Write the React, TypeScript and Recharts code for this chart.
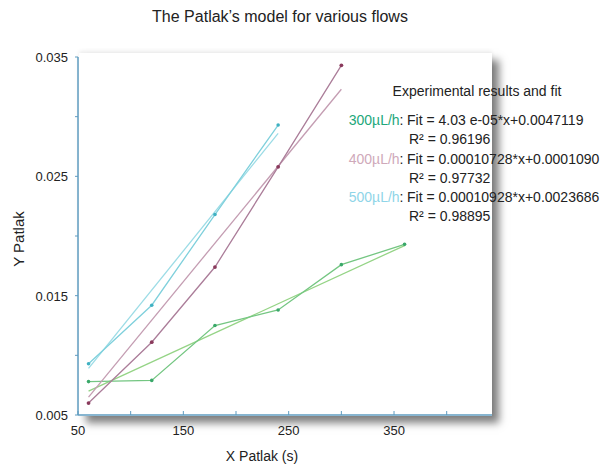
import React from 'react';
import { LineChart, Line, XAxis, YAxis } from 'recharts';

const xTicks = [50, 100, 150, 200, 250, 300, 350, 400];
const xLabels = [50, 150, 250, 350];
const yTicks = [0.005, 0.01, 0.015, 0.02, 0.025, 0.03, 0.035];
const yLabels = [0.005, 0.015, 0.025, 0.035];

const data300 = [
  { x: 60, y: 0.0078 },
  { x: 120, y: 0.0079 },
  { x: 180, y: 0.0125 },
  { x: 240, y: 0.0138 },
  { x: 300, y: 0.0176 },
  { x: 360, y: 0.0193 },
];
const fit300 = [
  { x: 60, y: 0.0070 },
  { x: 360, y: 0.0192 },
];
const data400 = [
  { x: 60, y: 0.0060 },
  { x: 120, y: 0.0111 },
  { x: 180, y: 0.0174 },
  { x: 240, y: 0.0258 },
  { x: 300, y: 0.0343 },
];
const fit400 = [
  { x: 60, y: 0.0065 },
  { x: 300, y: 0.0323 },
];
const data500 = [
  { x: 60, y: 0.0093 },
  { x: 120, y: 0.0142 },
  { x: 180, y: 0.0218 },
  { x: 240, y: 0.0293 },
];
const fit500 = [
  { x: 60, y: 0.0089 },
  { x: 240, y: 0.0286 },
];

const legendRows = [
  { flow: '300µL/h', fit: 'Fit = 4.03 e-05*x+0.0047119', r2: 'R² = 0.96196', color: '#22a77a' },
  { flow: '400µL/h', fit: 'Fit = 0.00010728*x+0.0001090', r2: 'R² = 0.97732', color: '#cfa9ba' },
  { flow: '500µL/h', fit: 'Fit = 0.00010928*x+0.0023686', r2: 'R² = 0.98895', color: '#8fd5e8' },
];

const FONT = '"Liberation Sans", Arial, sans-serif';
const AXIS = '#5f9cc0';
const TXT = '#222';

const XTick = (props: any) => {
  const { x, y, payload } = props;
  const major = xLabels.includes(payload.value);
  return (
    <g>
      <line x1={x} x2={x} y1={y} y2={y - 4} stroke={AXIS} strokeWidth={1} />
      {major && (
        <text x={x} y={y + 20} textAnchor="middle" fontSize={13} fill={TXT} fontFamily={FONT}>
          {payload.value}
        </text>
      )}
    </g>
  );
};

const YTick = (props: any) => {
  const { x, y, payload } = props;
  const v = Math.round(payload.value * 1000) / 1000;
  const major = yLabels.some((l) => Math.abs(l - v) < 1e-9);
  return (
    <g>
      <line x1={x} x2={x - 3} y1={y} y2={y} stroke={AXIS} strokeWidth={1} />
      {major && (
        <text x={x - 10} y={y + 5} textAnchor="end" fontSize={13} fill={TXT} fontFamily={FONT}>
          {v.toFixed(3)}
        </text>
      )}
    </g>
  );
};

export default function App() {
  return (
    <div style={{ position: 'absolute', left: 0, top: 0, width: 601, height: 468, background: '#fff', overflow: 'hidden' }}>
      <div
        style={{
          position: 'absolute',
          left: 79,
          top: 53,
          width: 413,
          height: 363,
          background: '#fff',
          boxShadow: '7px 7px 8px rgba(0,0,0,0.5), 0 -2px 4px rgba(0,0,0,0.07)',
        }}
      />
      <div style={{ position: 'absolute', left: 0, top: 0 }}>
        <LineChart width={601} height={468} margin={{ top: 57, right: 109, bottom: 0, left: 0 }}>
          <XAxis
            type="number"
            dataKey="x"
            domain={[50, 443]}
            ticks={xTicks}
            interval={0}
            allowDataOverflow
            height={53}
            tickSize={0}
            tickMargin={0}
            tickLine={false}
            tick={<XTick />}
            axisLine={{ stroke: AXIS, strokeWidth: 1.5 }}
          />
          <YAxis
            type="number"
            dataKey="y"
            domain={[0.005, 0.035]}
            ticks={yTicks}
            interval={0}
            allowDataOverflow
            width={78}
            tickSize={0}
            tickMargin={0}
            tickLine={false}
            tick={<YTick />}
            axisLine={{ stroke: AXIS, strokeWidth: 1.5 }}
          />
          <Line data={fit300} dataKey="y" type="linear" stroke="#95d486" strokeWidth={1.3} dot={false} isAnimationActive={false} />
          <Line data={data300} dataKey="y" type="linear" stroke="#74c682" strokeWidth={1.3} dot={{ r: 1.8, fill: '#3aa869', stroke: 'none' }} isAnimationActive={false} />
          <Line data={fit400} dataKey="y" type="linear" stroke="#c49db2" strokeWidth={1.3} dot={false} isAnimationActive={false} />
          <Line data={data400} dataKey="y" type="linear" stroke="#ab7d99" strokeWidth={1.3} dot={{ r: 1.9, fill: '#8a3a5c', stroke: 'none' }} isAnimationActive={false} />
          <Line data={fit500} dataKey="y" type="linear" stroke="#9cdce6" strokeWidth={1.3} dot={false} isAnimationActive={false} />
          <Line data={data500} dataKey="y" type="linear" stroke="#7fd0dc" strokeWidth={1.3} dot={{ r: 1.8, fill: '#3fb1c2', stroke: 'none' }} isAnimationActive={false} />
        </LineChart>
      </div>
      <svg
        width={601}
        height={468}
        style={{ position: 'absolute', left: 0, top: 0, pointerEvents: 'none' }}
        fontFamily={FONT}
      >
        <text x={280} y={22} textAnchor="middle" fontSize={16} fill={TXT}>
          The Patlak’s model for various flows
        </text>
        <text x={262} y={461} textAnchor="middle" fontSize={14} fill={TXT}>
          X Patlak (s)
        </text>
        <text x={24} y={239} textAnchor="middle" fontSize={15} fill={TXT} transform="rotate(-90 24 239)">
          Y Patlak
        </text>
        <text x={477} y={96} textAnchor="middle" fontSize={14} fill={TXT}>
          Experimental results and fit
        </text>
        {legendRows.map((r, i) => (
          <g key={r.flow}>
            <text x={403.5} y={125 + i * 38.5} textAnchor="end" fontSize={14}>
              <tspan fill={r.color}>{r.flow}</tspan>
              <tspan fill={TXT}>:</tspan>
            </text>
            <text x={407} y={125 + i * 38.5} fontSize={14} fill={TXT}>
              {r.fit}
            </text>
            <text x={409} y={144 + i * 38.5} fontSize={14} fill={TXT}>
              {r.r2}
            </text>
          </g>
        ))}
      </svg>
    </div>
  );
}
